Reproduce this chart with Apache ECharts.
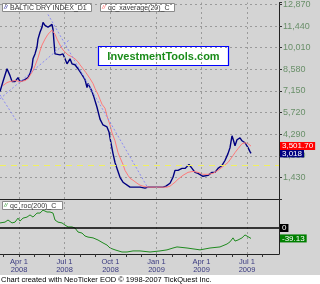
<!DOCTYPE html>
<html><head><meta charset="utf-8">
<script src="https://cdn.jsdelivr.net/npm/echarts@6/dist/echarts.min.js"></script>
<style>html,body{margin:0;padding:0;background:#fff}#c{width:320px;height:284px}</style>
</head><body><div id="c"></div>
<script>
// ---- data (x = days relative to 2008-04-01) ----
const bdiDays = [-38,-32,-24,-18,-14,-8,-2,2,6,12,18,22,26,28,32,36,38,42,46,48,52,56,58,62,66,68,70,72,76,82,88,92,96,100,102,106,112,118,122,126,132,136,138,142,146,150,156,162,168,172,176,180,182,188,192,196,202,208,212,222,228,236,242,246,252,258,268,278,288,294,298,302,306,308,312,316,318,322,326,328,332,336,340,342,346,352,358,362,368,372,378,382,386,392,398,406,412,418,422,426,428,432,436,438,442,446,448,452,456,458,462,464];
const bdiValues = [7118,7771,8620,8163,7771,7771,8032,7771,7705,7900,8032,8293,8750,9273,9600,10056,10579,11036,11362,11690,11493,11558,11362,11427,11558,11232,10383,9600,9730,9534,9600,9273,8946,9077,9273,8946,8881,8620,8424,8228,7900,7379,7640,7510,7118,6726,6073,5289,4898,4767,4767,4440,4049,3004,2416,2024,1437,1110,980,784,784,784,784,718,718,784,784,784,784,849,914,1045,1175,1437,1894,2024,1894,2024,2024,2155,2024,2155,2286,2220,2024,1763,1698,1632,1502,1437,1567,1698,1763,1763,2024,2220,2547,3004,3396,4179,3983,3526,3918,4049,4049,3853,3787,3722,3722,3396,3134,3018];
const maDays = [-32,-24,-18,-8,2,12,18,22,28,32,38,42,46,52,58,62,66,68,72,76,82,88,92,98,106,112,118,122,128,134,138,142,148,152,158,162,166,172,176,182,186,192,198,202,208,212,218,222,228,236,242,248,258,272,286,296,302,306,312,318,322,328,332,338,342,348,352,358,362,368,372,378,382,388,392,398,402,408,412,418,422,428,432,438,442,446,452,458,464];
const maValues = [7510,7705,7771,7836,7771,7836,7967,8097,8489,8816,9338,9795,10187,10579,10905,11036,11166,11232,10905,10579,10187,9860,9730,9534,9403,9273,9077,8881,8620,8358,8228,7967,7640,7314,6922,6595,6269,6008,5485,4898,4375,3853,3069,2743,2286,1894,1567,1371,1241,1045,914,849,784,784,784,784,849,914,1110,1306,1437,1567,1698,1763,1828,1828,1763,1763,1698,1632,1567,1632,1698,1698,1763,1894,2024,2155,2220,2416,2547,2873,3069,3330,3461,3657,3722,3657,3501.7];
const rocDays = [-38,-28,-22,-14,-8,-2,2,8,16,22,28,36,42,48,52,56,62,68,72,78,86,92,98,106,112,118,126,132,138,148,158,168,176,182,192,206,216,228,242,262,282,296,308,316,336,362,382,402,416,422,428,432,438,446,452,456,464];
const rocValues = [19,22,30,19,22,37,26,37,41,49,41,56,56,67,64,60,60,56,30,22,19,11,4,4,0,-15,-19,-30,-34,-37,-45,-56,-64,-75,-82,-90,-90,-86,-86,-90,-86,-82,-75,-71,-75,-82,-75,-71,-60,-52,-37,-49,-45,-37,-26,-30,-39.13];
const quarterDates = ['2008-04-01','2008-07-01','2008-10-01','2009-01-01','2009-04-01','2009-07-01'];
const quarterLabels = ['Apr 1\n2008','Jul 1\n2008','Oct 1\n2008','Jan 1\n2009','Apr 1\n2009','Jul 1\n2009'];
const yellowLevel = 2220;
// trend lines drawn on the chart: [[day, value],[day, value]]
const trendLines = [[[58,12212],[258,720]], [[-38,6630],[102,10570]], [[-38,6890],[-4,5120]]];

// ---- setup ----
const FONT = "'Liberation Sans', Arial, sans-serif";
const DAY = 86400000, BASE = Date.UTC(2008,3,1);
const t = d => BASE + d * DAY;
const xMin = t(-38), xMax = t(520);
const quarterTs = quarterDates.map(s => Date.parse(s + 'T00:00:00Z'));
const labelMap = {}; quarterTs.forEach((v,i) => labelMap[v] = quarterLabels[i]);
const monthTs = [];
for (let y = 2008, m = 2; !(y === 2009 && m === 8); ) { monthTs.push(Date.UTC(y, m, 1)); m++; if (m === 12) { m = 0; y++; } }

const fmt = (v, d) => v.toLocaleString('en-US', {minimumFractionDigits: d, maximumFractionDigits: d});
const bdiLast = bdiValues[bdiValues.length-1], maLast = maValues[maValues.length-1], rocLast = rocValues[rocValues.length-1];

const gridDot = {color:'#9a9a9a', type:[2,3], width:1};
const vLines = quarterTs.map(v => ({xAxis: v, lineStyle: gridDot, label:{show:false}}));
const endLabel = (text, bg) => ({show:true, position:'end', distance:1, formatter:text, color:'#fff', backgroundColor:bg,
  fontFamily:FONT, fontSize:8, lineHeight:8, padding:[0,2,0,2], opacity:1});

const chart = echarts.init(document.getElementById('c'), null, {renderer:'canvas'});
chart.setOption({
  animation:false,
  backgroundColor:'#d4d4d4',
  grid:[
    {left:0, top:0, width:279, height:199, containLabel:false},
    {left:0, top:199, width:279, height:55, containLabel:false}
  ],
  xAxis:[
    {type:'value', gridIndex:0, min:xMin, max:xMax, axisLine:{show:true, onZero:false, lineStyle:{color:'#222', width:1}},
      axisTick:{show:false}, axisLabel:{show:false}, splitLine:{show:false}},
    {type:'value', gridIndex:1, min:xMin, max:xMax, axisLine:{show:true, onZero:false, lineStyle:{color:'#222', width:1}},
      axisTick:{show:true, customValues:monthTs, length:3, lineStyle:{color:'#333'}},
      axisLabel:{show:true, customValues:quarterTs, formatter:v => labelMap[v] || '', color:'#3a3a80',
        fontFamily:FONT, fontSize:7.5, lineHeight:8, margin:4, hideOverlap:false},
      splitLine:{show:false}}
  ],
  yAxis:[
    {type:'value', gridIndex:0, position:'right', min:0, max:13000, interval:1430,
      axisLine:{show:true, lineStyle:{color:'#222'}}, axisTick:{show:true, length:3, lineStyle:{color:'#333'}},
      axisLabel:{color:'#6a906a', fontFamily:FONT, fontSize:9, margin:4,
        formatter:v => (v > 0 && v % 1430 === 0) ? fmt(v,0) : ''},
      splitLine:{show:true, showMaxLine:false, showMinLine:false, lineStyle:gridDot}},
    {type:'value', gridIndex:1, position:'right', min:-97.5, max:108.75,
      axisLine:{show:true, lineStyle:{color:'#222'}}, axisTick:{show:false}, axisLabel:{show:false}, splitLine:{show:false}}
  ],
  series:[
    {type:'line', name:'BALTIC DRY INDEX_D1', xAxisIndex:0, yAxisIndex:0, showSymbol:false, z:3,
      data: bdiDays.map((d,i) => [t(d), bdiValues[i]]),
      lineStyle:{color:'#000080', width:1.4},
      markLine:{silent:true, symbol:['none','none'], animation:false, label:{show:false},
        data:[
          ...vLines,
          {yAxis:yellowLevel, lineStyle:{color:'#f0f060', type:[6,5], width:1}, label:{show:false}},
          ...trendLines.map(p => [{coord:[t(p[0][0]), p[0][1]], lineStyle:{color:'#8c8cf5', type:[2,2], width:1}, label:{show:false}},
                                   {coord:[t(p[1][0]), p[1][1]]}]),
          {yAxis:bdiLast, lineStyle:{color:'rgba(0,0,0,0)', width:0}, label:endLabel(fmt(bdiLast,0), '#000080')}
        ]}
    },
    {type:'line', name:'qc_xaverage(20)_C', xAxisIndex:0, yAxisIndex:0, showSymbol:false, z:4,
      data: maDays.map((d,i) => [t(d), maValues[i]]),
      lineStyle:{color:'#ff7a7a', width:1},
      markLine:{silent:true, symbol:['none','none'], animation:false,
        data:[{yAxis:maLast, lineStyle:{color:'rgba(0,0,0,0)', width:0}, label:endLabel(fmt(maLast,2), '#ff0000')}]}
    },
    {type:'line', name:'qc_roc(200)_C', xAxisIndex:1, yAxisIndex:1, showSymbol:false, z:3,
      data: rocDays.map((d,i) => [t(d), rocValues[i]]),
      lineStyle:{color:'#1f8a1f', width:1},
      markLine:{silent:true, symbol:['none','none'], animation:false, label:{show:false},
        data:[
          ...vLines,
          {yAxis:0, lineStyle:{color:'#000', type:'solid', width:1.5}, label:endLabel('0', '#000')},
          {yAxis:rocLast, lineStyle:{color:'rgba(0,0,0,0)', width:0}, label:endLabel(fmt(rocLast,2), '#008000')}
        ]}
    }
  ],
  graphic:[
    {type:'rect', shape:{x:0, y:275, width:320, height:9}, style:{fill:'#fff'}},
    {type:'text', x:1, y:279.5, style:{text:'Chart created with NeoTicker EOD \u00a9 1998-2007 TickQuest Inc.', font:'7.5px ' + FONT, fill:'#000', verticalAlign:'middle'}},
    // legend boxes
    {type:'rect', shape:{x:2.5, y:3.5, width:89, height:8}, style:{fill:'#fff', stroke:'#8a8a8a', lineWidth:1}},
    {type:'text', x:4, y:7.8, style:{text:'//', font:'italic 6px ' + FONT, fill:'#000080', verticalAlign:'middle'}},
    {type:'text', x:10, y:7.8, style:{text:'BALTIC DRY INDEX_D1', font:'7px ' + FONT, fill:'#333', verticalAlign:'middle'}},
    {type:'rect', shape:{x:100.5, y:3.5, width:74, height:8}, style:{fill:'#fff', stroke:'#8a8a8a', lineWidth:1}},
    {type:'text', x:102, y:7.8, style:{text:'//', font:'italic 6px ' + FONT, fill:'#ff5050', verticalAlign:'middle'}},
    {type:'text', x:108, y:7.8, style:{text:'qc_xaverage(20)_C', font:'7px ' + FONT, fill:'#333', verticalAlign:'middle'}},
    {type:'rect', shape:{x:2.5, y:201.5, width:60, height:8}, style:{fill:'#fff', stroke:'#8a8a8a', lineWidth:1}},
    {type:'text', x:4, y:205.8, style:{text:'//', font:'italic 6px ' + FONT, fill:'#1f8a1f', verticalAlign:'middle'}},
    {type:'text', x:10, y:205.8, style:{text:'qc_roc(200)_C', font:'7px ' + FONT, fill:'#333', verticalAlign:'middle'}},
    // watermark box
    {type:'rect', shape:{x:98.5, y:46.5, width:130, height:19}, style:{fill:'#fff', stroke:'#0000ff', lineWidth:1.2}},
    {type:'text', x:163.5, y:56.5, style:{text:'InvestmentTools.com', font:'bold 11px ' + FONT, fill:'#1a8c1a', align:'center', verticalAlign:'middle'}}
  ]
});
</script></body></html>
